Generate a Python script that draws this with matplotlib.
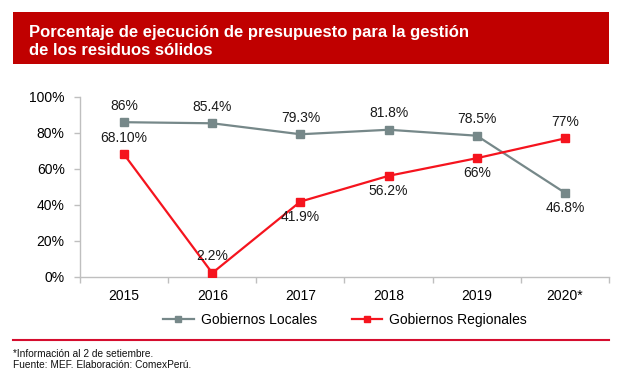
import matplotlib
matplotlib.use("Agg")
import matplotlib.pyplot as plt
from matplotlib.patches import Rectangle
from matplotlib.lines import Line2D

plt.rcParams['font.family'] = ['Liberation Sans', 'DejaVu Sans']

years = ["2015", "2016", "2017", "2018", "2019", "2020*"]
locales = [86.0, 85.4, 79.3, 81.8, 78.5, 46.8]
regionales = [68.1, 2.2, 41.9, 56.2, 66.0, 77.0]
locales_labels = ["86%", "85.4%", "79.3%", "81.8%", "78.5%", "46.8%"]
regionales_labels = ["68.10%", "2.2%", "41.9%", "56.2%", "66%", "77%"]
locales_pos = ["above", "above", "above", "above", "above", "below"]
regionales_pos = ["above", "above", "below", "below", "below", "above"]
yticks = [0, 20, 40, 60, 80, 100]

W, H = 625, 381
fig = plt.figure(figsize=(W / 100, H / 100), dpi=100)

def fx(px):
    return px / W

def fy(py):
    return 1 - py / H

# title box
fig.patches.append(Rectangle((fx(13), fy(64)), fx(609) - fx(13), fy(12) - fy(64),
                             transform=fig.transFigure, facecolor='#C00000',
                             edgecolor='none', zorder=0))
fig.text(fx(29), fy(37), "Porcentaje de ejecución de presupuesto para la gestión",
         color='white', fontsize=12, fontweight='bold', va='baseline', ha='left')
fig.text(fx(29), fy(55), "de los residuos sólidos",
         color='white', fontsize=12, fontweight='bold', va='baseline', ha='left')

gray = '#768889'
red = '#F5141E'

ax = fig.add_axes([fx(80), fy(277), fx(609) - fx(80), fy(97) - fy(277)])
x = list(range(len(years)))
ax.plot(x, locales, color=gray, lw=1.6, marker='s', ms=5.5, zorder=3)
ax.plot(x, regionales, color=red, lw=1.6, marker='s', ms=5.5, zorder=4)

ax.set_xlim(-0.5, len(years) - 0.5)
ax.set_ylim(0, 100)
ax.set_yticks(yticks)
ax.set_yticklabels([f"{v}%" for v in yticks], fontsize=10)
ax.set_xticks(x)
ax.set_xticklabels(years, fontsize=10)
ax.set_xticks([i - 0.5 for i in range(len(years) + 1)], minor=True)
ax.tick_params(axis='x', which='major', length=0, pad=9)
ax.tick_params(axis='x', which='minor', length=4, color='#BFBFBF', width=1)
ax.tick_params(axis='y', length=4, color='#BFBFBF', width=1, pad=7)
for s in ['top', 'right']:
    ax.spines[s].set_visible(False)
for s in ['left', 'bottom']:
    ax.spines[s].set_color('#BFBFBF')
    ax.spines[s].set_linewidth(1)

def annotate(vals, labels, pos):
    for i, (v, lab, p) in enumerate(zip(vals, labels, pos)):
        off = 12 if p == "above" else -11
        ax.annotate(lab, (i, v), xytext=(0, off), textcoords='offset points',
                    ha='center', va='center', fontsize=10, color='#1a1a1a', zorder=5)

annotate(locales, locales_labels, locales_pos)
annotate(regionales, regionales_labels, regionales_pos)

handles = [Line2D([], [], color=gray, lw=1.6, marker='s', ms=5),
           Line2D([], [], color=red, lw=1.6, marker='s', ms=5)]
fig.legend(handles, ["Gobiernos Locales", "Gobiernos Regionales"], loc='center',
           bbox_to_anchor=(fx(345), fy(320)), ncol=2, frameon=False, fontsize=10,
           handlelength=2.2, columnspacing=2.5, handletextpad=0.5)

# separator line
fig.add_artist(Line2D([fx(13), fx(609)], [fy(340), fy(340)], transform=fig.transFigure,
                      color='#D50D2E', lw=1.5))
fig.text(fx(13), fy(357), "*Información al 2 de setiembre.", fontsize=7.3,
         va='baseline', ha='left', color='#111111')
fig.text(fx(13), fy(368), "Fuente: MEF. Elaboración: ComexPerú.", fontsize=7.3,
         va='baseline', ha='left', color='#111111')

fig.savefig("out.png", dpi=100, facecolor='white')
